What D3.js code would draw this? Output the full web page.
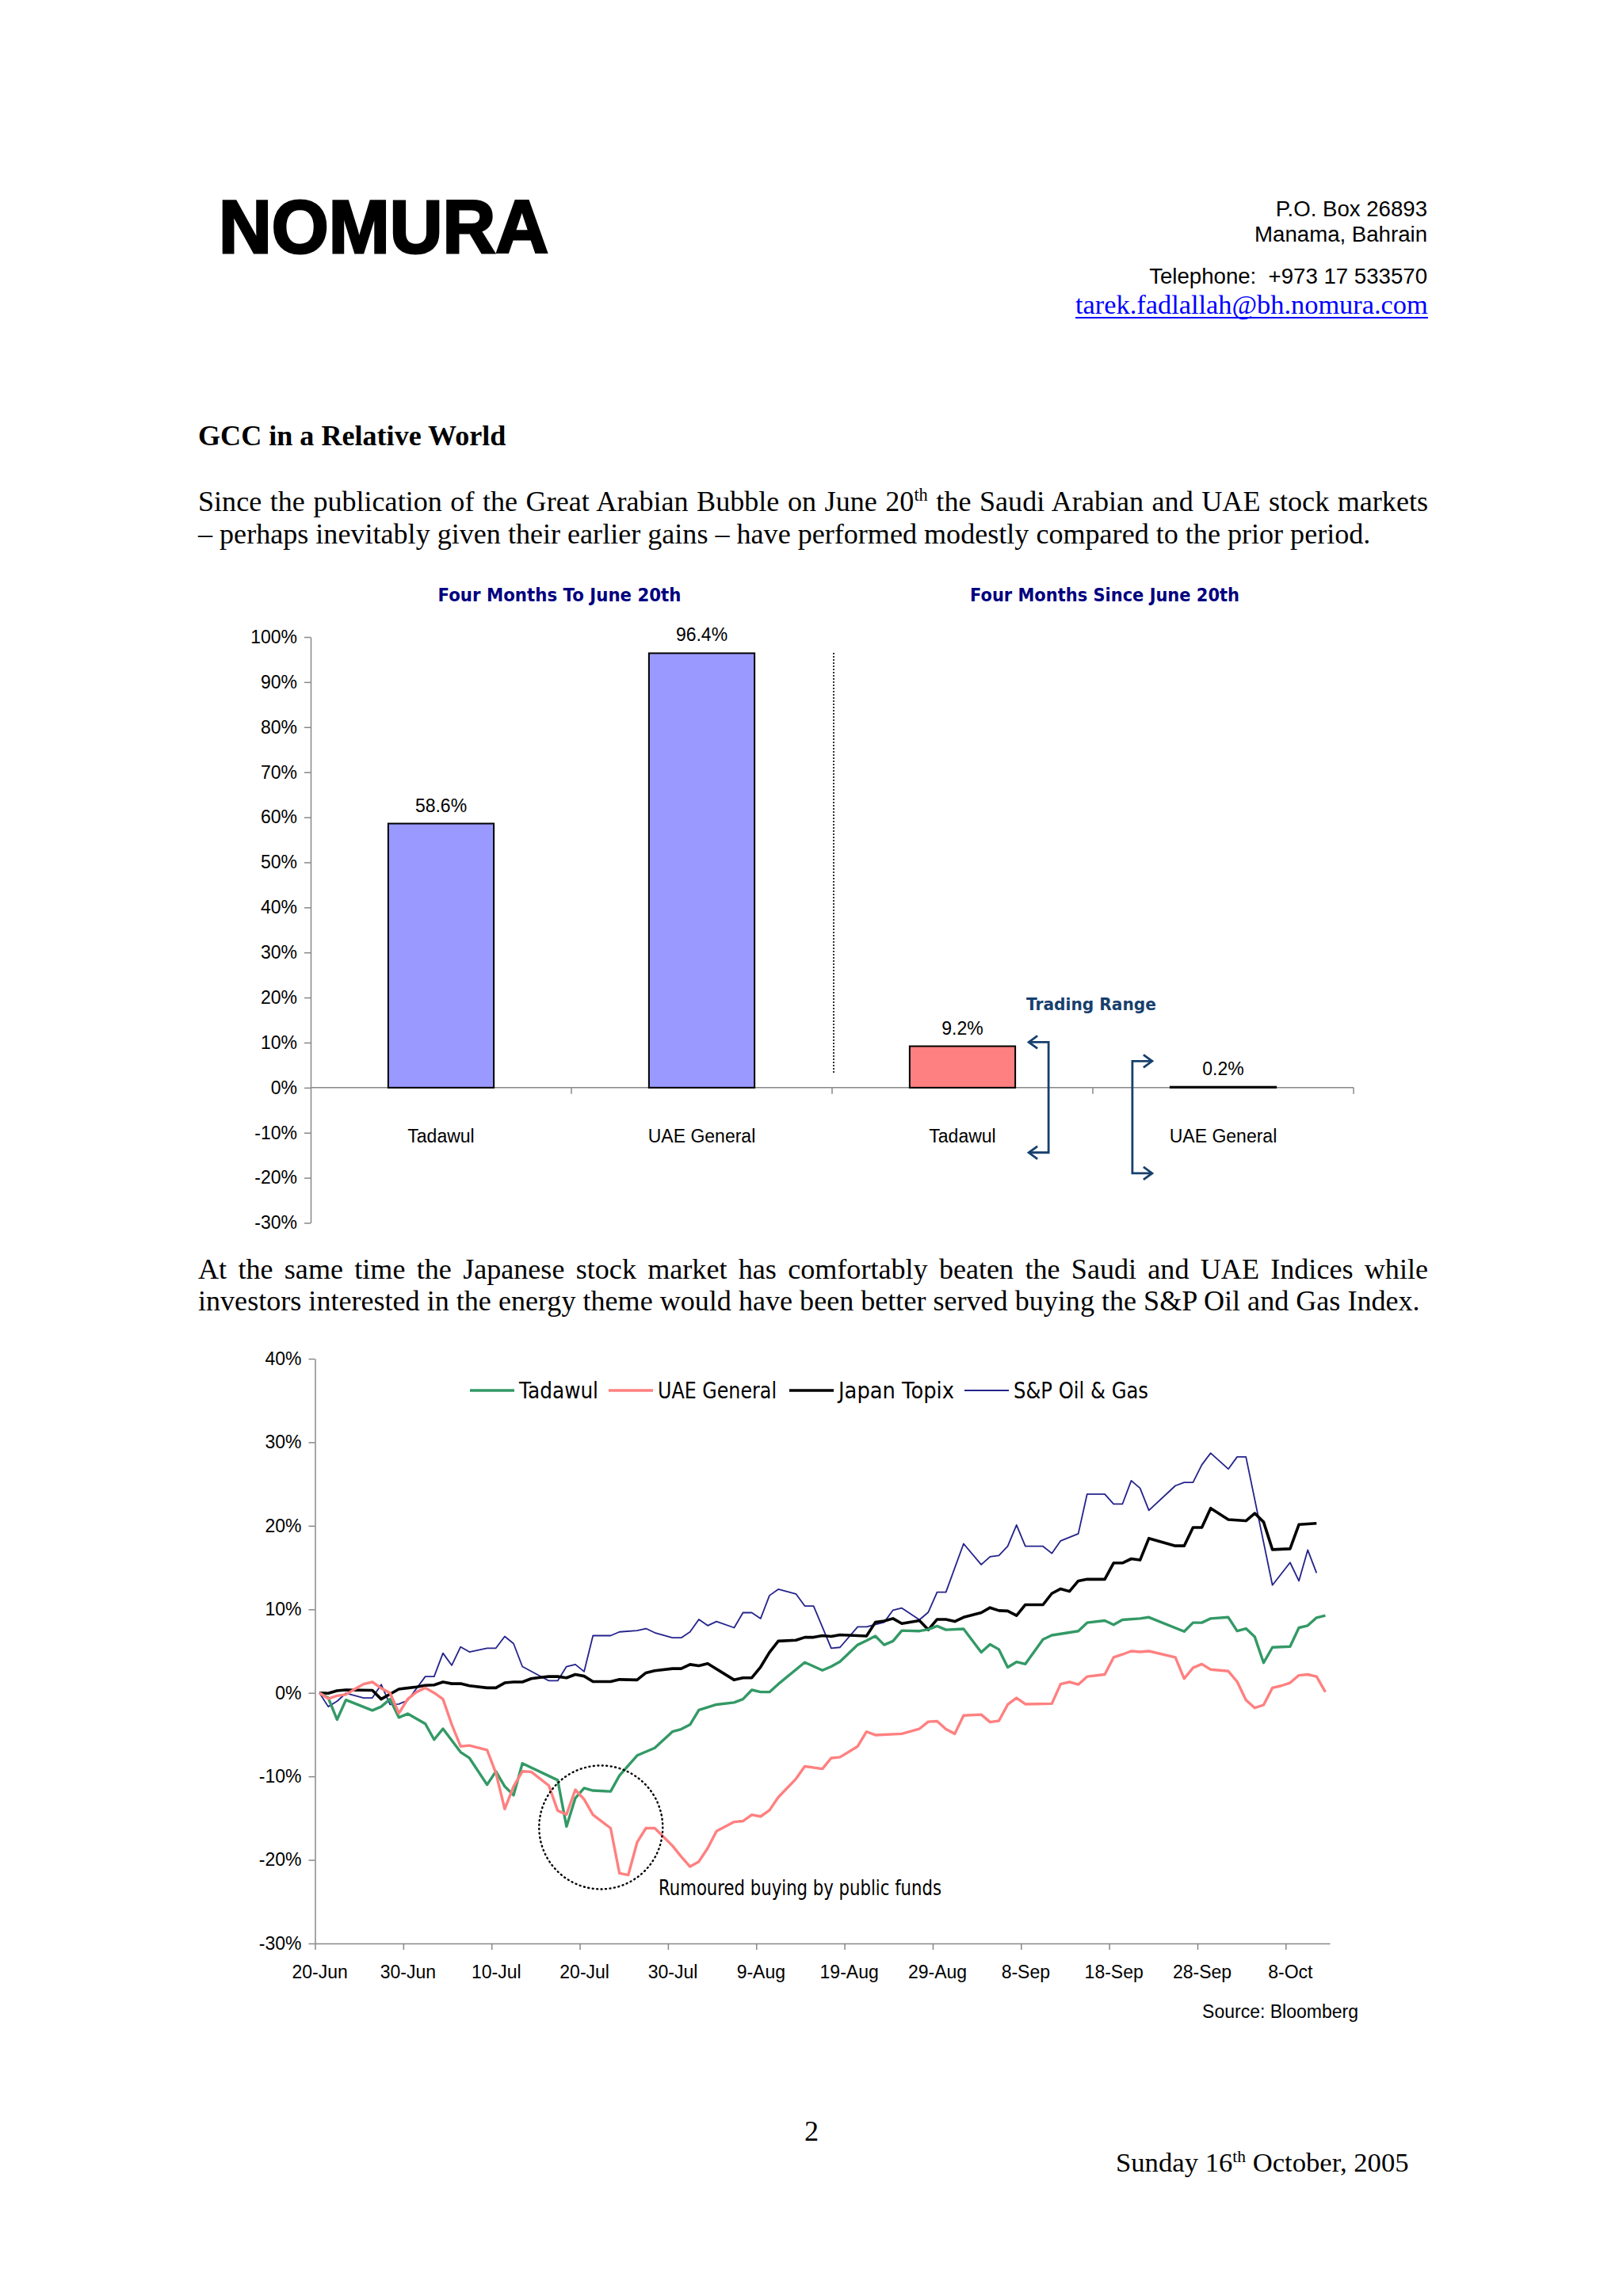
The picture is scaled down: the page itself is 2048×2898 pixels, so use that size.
<!DOCTYPE html>
<html><head><meta charset="utf-8">
<script src="https://cdn.jsdelivr.net/npm/d3@7"></script>
<style>html,body{margin:0;padding:0;background:#fff}</style>
</head><body>
<svg id="page" width="2048" height="2898" xmlns="http://www.w3.org/2000/svg"></svg>
<script>
// ================= DATA =================
const barGroupTitles = ["Four Months To June 20th", "Four Months Since June 20th"];
const barCategories = ["Tadawul", "UAE General", "Tadawul", "UAE General"];
const barValues = [58.6, 96.4, 9.2, 0.2];
const barValueLabels = ["58.6%", "96.4%", "9.2%", "0.2%"];
const barTicks = [-30, -20, -10, 0, 10, 20, 30, 40, 50, 60, 70, 80, 90, 100];
const rangeHigh = [10.1, 5.9];     // trading range since June 20th (Tadawul, UAE General)
const rangeLow = [-14.4, -19.0];

const seriesNames = ["Tadawul", "UAE General", "Japan Topix", "S&P Oil & Gas"];
// day offsets from 20-Jun-2005
const tadawulDays = [0,1,2,3,6,7,8,9,10,12,13,14,16,17,19,20,21,22,23,27,28,29,30,31,33,34,36,38,40,41,42,43,45,47,48,49,50,51,52,55,57,58,59,61,62,63,64,65,66,68,69,70,71,73,75,76,77,78,79,80,82,83,86,87,89,90,91,93,94,98,99,100,101,103,104,105,106,107,108,110,111,112,113,114];
const tadawulValues = [0,-0.6,-3.2,-0.85,-2.1,-1.65,-0.75,-2.95,-2.5,-3.7,-5.6,-4.3,-7.1,-7.8,-11.0,-9.4,-11.2,-12.25,-8.45,-10.45,-16.0,-12.6,-11.4,-11.7,-11.8,-9.9,-7.5,-6.6,-4.65,-4.35,-3.8,-2.05,-1.4,-1.15,-0.75,0.35,0.1,0.1,1.05,3.65,2.7,3.15,3.75,5.75,6.25,6.8,5.75,6.2,7.45,7.4,7.6,8.0,7.55,7.65,4.85,5.8,5.2,3.05,3.7,3.45,6.4,6.9,7.4,8.4,8.65,8.15,8.75,8.9,9.05,7.35,8.4,8.4,8.9,9.05,7.4,7.7,6.7,3.6,5.45,5.55,7.8,8.05,9.0,9.25];

const uaeDays = [0,1,2,3,4,5,6,7,8,9,10,11,12,13,14,15,16,17,19,20,21,22,23,24,26,27,28,29,30,31,33,34,35,36,37,38,40,41,42,43,44,45,47,48,49,50,51,52,54,55,57,58,59,61,62,63,66,68,69,70,71,72,73,75,76,77,78,79,80,83,84,85,86,87,89,90,91,92,93,94,97,98,99,100,101,103,104,105,106,107,108,109,110,111,112,113,114];
const uaeValues = [0,-0.7,-0.35,-0.2,0.45,1.05,1.3,0.55,0,-2.45,-0.75,0.1,0.6,0,-0.75,-3.8,-6.4,-6.3,-6.85,-9.6,-13.9,-11.2,-9.4,-9.45,-11.1,-14.1,-14.55,-11.6,-12.75,-14.6,-16.2,-21.6,-21.8,-17.9,-16.2,-16.2,-18.3,-19.6,-20.8,-20.2,-18.6,-16.55,-15.45,-15.35,-14.6,-14.8,-14.05,-12.5,-10.3,-8.8,-9.1,-7.8,-7.7,-6.4,-4.65,-5.05,-4.9,-4.3,-3.45,-3.4,-4.35,-4.9,-2.7,-2.6,-3.5,-3.35,-1.4,-0.6,-1.35,-1.3,1.05,1.3,1.0,1.95,2.2,4.25,4.6,5.0,4.9,5.0,4.25,1.7,3.0,3.45,2.8,2.6,1.35,-0.85,-1.8,-1.45,0.6,0.85,1.2,2.1,2.2,1.95,0.1];

const topixDays = [0,1,2,3,6,7,8,9,11,12,13,14,15,16,17,19,20,21,22,23,24,25,26,27,28,29,30,31,33,34,36,37,38,40,41,42,43,44,47,48,49,50,51,52,54,55,56,57,58,59,61,62,63,64,65,66,68,69,70,71,72,73,75,76,77,78,79,80,82,83,84,85,86,87,89,90,91,92,93,94,97,98,99,100,101,103,105,106,107,108,110,111,113];
const topixValues = [0,-0.05,0.25,0.35,0.3,-0.75,-0.15,0.45,0.7,0.9,0.95,1.3,1.1,1.1,0.85,0.6,0.6,1.2,1.3,1.3,1.7,1.85,1.95,1.95,1.8,2.2,2.0,1.35,1.35,1.6,1.55,2.4,2.65,2.9,2.9,3.4,3.25,3.5,1.55,1.8,1.8,3.1,4.85,6.2,6.3,6.65,6.65,6.85,6.75,6.95,6.85,6.8,8.45,8.6,8.9,8.3,8.65,7.55,8.8,8.8,8.55,9.05,9.6,10.2,9.85,9.8,9.25,10.55,10.55,11.9,12.45,12.15,13.4,13.6,13.6,15.55,15.55,16.05,15.9,18.5,17.6,17.6,19.8,19.8,22.1,20.75,20.6,21.5,20.45,17.15,17.25,20.15,20.3];

const oilDays = [0,1,2,3,5,6,7,8,9,10,12,13,14,15,16,17,19,20,21,22,23,26,27,28,29,30,31,33,34,36,37,38,40,41,42,43,44,45,47,48,49,50,51,52,54,55,56,58,59,61,62,64,65,66,68,69,70,71,73,75,76,77,78,79,80,82,83,84,86,87,89,90,91,92,93,94,97,98,99,100,101,103,104,105,108,110,111,112,113];
const oilValues = [0,-1.65,-1.0,-0.05,-0.6,-0.6,1.0,-1.4,-1.35,-0.9,1.95,1.95,4.75,3.3,5.5,4.9,5.35,5.35,6.75,5.9,3.15,1.45,1.45,3.15,3.4,2.55,6.85,6.85,7.3,7.45,7.7,7.2,6.6,6.6,7.3,8.8,8.05,8.55,7.8,9.6,9.6,8.9,11.65,12.4,11.85,10.4,10.4,5.35,5.45,7.9,7.9,8.45,9.9,10.15,8.75,9.65,12.05,12.05,17.85,15.35,16.3,16.45,17.55,20.1,17.55,17.55,16.7,18.2,19.05,23.8,23.8,22.6,22.6,25.4,24.5,21.85,24.8,25.2,25.2,27.3,28.7,26.8,28.25,28.25,12.9,15.6,13.4,17.1,14.35];

const dateTickDays = [0,10,20,30,40,50,60,70,80,90,100,110];
const dateTickLabels = ["20-Jun","30-Jun","10-Jul","20-Jul","30-Jul","9-Aug","19-Aug","29-Aug","8-Sep","18-Sep","28-Sep","8-Oct"];
const lineTicks = [-30, -20, -10, 0, 10, 20, 30, 40];
const annotationCentre = [32.4, -16.1]; // day, %
const annotationText = "Rumoured buying by public funds";

// ================= STYLE =================
const SERIF = "'Liberation Serif','Times New Roman',serif";
const SANS = "'Liberation Sans',Arial,sans-serif";
const VERD = "'DejaVu Sans',Verdana,sans-serif";
const TAHO = "'DejaVu Sans',Tahoma,sans-serif";
const seriesColors = ["#339966", "#FF8080", "#000000", "#24238C"];
const seriesWidths = [3.4, 3.4, 3.6, 1.8];
const barColors = ["#9999FF", "#9999FF", "#FF8080", "#FF8080"];

const svg = d3.select("#page");
svg.append("rect").attr("width", 2048).attr("height", 2898).attr("fill", "#fff");

function fitWidth(t, target) {
  const w = t.node().getComputedTextLength();
  const fs = parseFloat(t.attr("font-size"));
  const n = fs * target / w;
  t.attr("font-size", n);
  return n;
}

// ================= HEADER =================
svg.append("text").attr("x", 276).attr("y", 319)
  .attr("font-family", SANS).attr("font-weight", "bold").attr("font-size", 94)
  .attr("textLength", 416).attr("lengthAdjust", "spacingAndGlyphs")
  .attr("fill", "#000").attr("stroke", "#000").attr("stroke-width", 3).text("NOMURA");

const hdr = [["P.O. Box 26893", 273], ["Manama, Bahrain", 305], ["Telephone:  +973 17 533570", 358]];
const probe = svg.append("text").attr("font-family", SANS).attr("font-size", 100).text("Manama, Bahrain");
const hdrSize = fitWidth(probe, 218); probe.remove();
hdr.forEach(([t, y]) => {
  svg.append("text").attr("x", 1801).attr("y", y).attr("text-anchor", "end")
    .attr("font-family", SANS).attr("font-size", hdrSize).attr("fill", "#000")
    .style("white-space", "pre").text(t);
});
const email = svg.append("text").attr("x", 1357).attr("y", 396)
  .attr("font-family", SERIF).attr("font-size", 30).attr("fill", "#0000FF")
  .text("tarek.fadlallah@bh.nomura.com");
fitWidth(email, 445);
svg.append("line").attr("x1", 1357).attr("x2", 1802).attr("y1", 401).attr("y2", 401)
  .attr("stroke", "#0000FF").attr("stroke-width", 2);

// ================= BODY TEXT =================
const bodyProbe = svg.append("text").attr("font-family", SERIF).attr("font-size", 100)
  .text("– perhaps inevitably given their earlier gains – have performed modestly compared to the prior period.");
const BODY = fitWidth(bodyProbe, 1480); bodyProbe.remove();

function bodyLine(x, y, parts, justifyTo, opts = {}) {
  const fs = opts.size || BODY;
  const t = svg.append("text").attr("x", x).attr("y", y)
    .attr("font-family", SERIF).attr("font-size", fs).attr("fill", "#000");
  if (opts.bold) t.attr("font-weight", "bold");
  let shifted = false;
  parts.forEach(p => {
    const ts = t.append("tspan").text(p.t);
    if (p.sup) { ts.attr("font-size", fs * 0.62).attr("dy", -fs * 0.36); shifted = true; }
    else if (shifted) { ts.attr("dy", fs * 0.36); shifted = false; }
  });
  if (justifyTo) {
    const w = t.node().getComputedTextLength();
    const full = parts.map(p => p.t).join("");
    const spaces = (full.match(/ /g) || []).length;
    t.style("word-spacing", ((justifyTo - w) / spaces) + "px");
  }
  return t;
}

bodyLine(250, 562, [{t: "GCC in a Relative World"}], null, {bold: true});
bodyLine(250, 645, [{t: "Since the publication of the Great Arabian Bubble on June 20"}, {t: "th", sup: true}, {t: " the Saudi Arabian and UAE stock markets"}], 1552);
bodyLine(250, 686, [{t: "– perhaps inevitably given their earlier gains – have performed modestly compared to the prior period."}]);
bodyLine(250, 1614, [{t: "At the same time the Japanese stock market has comfortably beaten the Saudi and UAE Indices while"}], 1552);
bodyLine(250, 1654, [{t: "investors interested in the energy theme would have been better served buying the S&P Oil and Gas Index."}]);

svg.append("text").attr("x", 1024).attr("y", 2702).attr("text-anchor", "middle")
  .attr("font-family", SERIF).attr("font-size", BODY).text("2");
const foot = bodyLine(1408, 2741, [{t: "Sunday 16"}, {t: "th", sup: true}, {t: " October, 2005"}], null, {size: BODY * 0.96});

// ================= BAR CHART =================
const yB = d3.scaleLinear().domain([-30, 100]).range([1543.5, 804]);
const xB = d3.scaleBand().domain(d3.range(barCategories.length)).range([392, 1708]).paddingInner(0).paddingOuter(0);
const bw = xB.bandwidth();
const barW = bw * 0.405;
const gB = svg.append("g");

const yAxB = gB.append("g").attr("transform", `translate(${xB.range()[0]},0)`)
  .call(d3.axisLeft(yB).tickValues(barTicks).tickFormat(d => d + "%").tickSize(8).tickSizeOuter(0).tickPadding(9));
yAxB.attr("font-family", SANS).attr("font-size", 23);
yAxB.selectAll("path,line").attr("stroke", "#888").attr("stroke-width", 1.5);
yAxB.selectAll("text").attr("fill", "#000");

gB.append("line").attr("x1", xB.range()[0]).attr("x2", xB.range()[1])
  .attr("y1", yB(0)).attr("y2", yB(0)).attr("stroke", "#888").attr("stroke-width", 1.5);
d3.range(1, barCategories.length + 1).forEach(i => {
  const x = xB.range()[0] + i * bw;
  gB.append("line").attr("x1", x).attr("x2", x).attr("y1", yB(0)).attr("y2", yB(0) + 8)
    .attr("stroke", "#888").attr("stroke-width", 1.5);
});

gB.selectAll("rect.bar").data(barValues).join("rect").attr("class", "bar")
  .attr("x", (d, i) => xB(i) + (bw - barW) / 2)
  .attr("width", barW)
  .attr("y", d => yB(Math.max(0, d)))
  .attr("height", d => Math.abs(yB(0) - yB(d)))
  .attr("fill", (d, i) => barColors[i])
  .attr("stroke", "#000").attr("stroke-width", 2);

gB.selectAll("text.val").data(barValues).join("text").attr("class", "val")
  .attr("x", (d, i) => xB(i) + bw / 2).attr("y", d => yB(d) - 15)
  .attr("text-anchor", "middle").attr("font-family", SANS).attr("font-size", 23)
  .text((d, i) => barValueLabels[i]);

gB.selectAll("text.cat").data(barCategories).join("text").attr("class", "cat")
  .attr("x", (d, i) => xB(i) + bw / 2).attr("y", yB(0) + 69)
  .attr("text-anchor", "middle").attr("font-family", SANS).attr("font-size", 23)
  .text(d => d);

const titleX = [706, 1394], titleW = [307, 340];
barGroupTitles.forEach((t, i) => {
  gB.append("text").attr("x", titleX[i] - titleW[i] / 2).attr("y", 759)
    .attr("font-family", VERD).attr("font-weight", "bold").attr("font-size", 23)
    .attr("textLength", titleW[i]).attr("lengthAdjust", "spacingAndGlyphs")
    .attr("fill", "#000080").text(t);
});

const sepX = xB.range()[0] + 2 * bw;
gB.append("line").attr("x1", sepX + 2).attr("x2", sepX + 2).attr("y1", yB(96.5)).attr("y2", yB(3))
  .attr("stroke", "#000").attr("stroke-width", 1.6).attr("stroke-dasharray", "2,2");

const RC = "#17406D";
gB.append("text").attr("x", 1377 - 82).attr("y", 1275)
  .attr("font-family", VERD).attr("font-weight", "bold").attr("font-size", 22).attr("fill", RC)
  .attr("textLength", 164).attr("lengthAdjust", "spacingAndGlyphs").text("Trading Range");
[2, 3].forEach((ci, k) => {
  const left = k === 0;
  const barL = xB(ci) + (bw - barW) / 2, barR = barL + barW;
  const vx = left ? barR + 42 : barL - 48;
  const tip = left ? vx - 25 : vx + 25;
  const yt = yB(rangeHigh[k]), yb = yB(rangeLow[k]);
  gB.append("path").attr("d", `M${tip},${yt}H${vx}V${yb}H${tip}`)
    .attr("fill", "none").attr("stroke", RC).attr("stroke-width", 2.8);
  const s = left ? 1 : -1;
  [yt, yb].forEach(yy => {
    gB.append("path").attr("d", `M${tip + s * 11},${yy - 8}L${tip},${yy}L${tip + s * 11},${yy + 8}`)
      .attr("fill", "none").attr("stroke", RC).attr("stroke-width", 2.8);
  });
});

// ================= LINE CHART =================
const xL = d3.scaleLinear().domain([0, 115]).range([397.5, 1678]);
const yL = d3.scaleLinear().domain([-30, 40]).range([2453, 1715]);
const gL = svg.append("g");
const slot = xL(0.5) - xL(0);

const yAxL = gL.append("g").attr("transform", `translate(${xL(0)},0)`)
  .call(d3.axisLeft(yL).tickValues(lineTicks).tickFormat(d => d + "%").tickSize(8).tickSizeOuter(0).tickPadding(9));
yAxL.attr("font-family", SANS).attr("font-size", 23);
yAxL.selectAll("path,line").attr("stroke", "#888").attr("stroke-width", 1.5);
yAxL.selectAll("text").attr("fill", "#000");

const xAxL = gL.append("g").attr("transform", `translate(0,${yL(-30)})`)
  .call(d3.axisBottom(xL).tickValues(dateTickDays).tickFormat((d, i) => dateTickLabels[i]).tickSize(8).tickSizeOuter(0));
xAxL.attr("font-family", SANS).attr("font-size", 23);
xAxL.selectAll("path,line").attr("stroke", "#888").attr("stroke-width", 1.5);
xAxL.selectAll("text").attr("fill", "#000").attr("x", slot).attr("y", 44).attr("dy", 0);

const seriesData = [
  tadawulDays.map((d, i) => [d, tadawulValues[i]]),
  uaeDays.map((d, i) => [d, uaeValues[i]]),
  topixDays.map((d, i) => [d, topixValues[i]]),
  oilDays.map((d, i) => [d, oilValues[i]])
];
const lineGen = d3.line().x(d => xL(d[0] + 0.5)).y(d => yL(d[1]));
const drawOrder = [3, 2, 0, 1];
drawOrder.forEach(k => {
  gL.append("path").datum(seriesData[k]).attr("d", lineGen)
    .attr("fill", "none").attr("stroke", seriesColors[k]).attr("stroke-width", seriesWidths[k])
    .attr("stroke-linejoin", "round");
});

// legend
const legLineX = [593, 768, 996, 1217];
const legTextW = [100, 150, 146, 170];
seriesNames.forEach((n, k) => {
  const lx = legLineX[k];
  gL.append("line").attr("x1", lx).attr("x2", lx + 56).attr("y1", 1755).attr("y2", 1755)
    .attr("stroke", seriesColors[k]).attr("stroke-width", seriesWidths[k]);
  gL.append("text").attr("x", lx + 62).attr("y", 1765)
    .attr("font-family", TAHO).attr("font-size", 28).attr("fill", "#000")
    .attr("textLength", legTextW[k]).attr("lengthAdjust", "spacingAndGlyphs").text(n);
});

gL.append("circle").attr("cx", xL(annotationCentre[0])).attr("cy", yL(annotationCentre[1])).attr("r", 78)
  .attr("fill", "none").attr("stroke", "#000").attr("stroke-width", 2.4).attr("stroke-dasharray", "1,4.5")
  .attr("stroke-linecap", "round");
gL.append("text").attr("x", 831).attr("y", 2392)
  .attr("font-family", TAHO).attr("font-size", 26).attr("fill", "#000")
  .attr("textLength", 357).attr("lengthAdjust", "spacingAndGlyphs").text(annotationText);

svg.append("text").attr("x", 1714).attr("y", 2547).attr("text-anchor", "end")
  .attr("font-family", SANS).attr("font-size", 23).attr("fill", "#000").text("Source: Bloomberg");
</script>
</body></html>
